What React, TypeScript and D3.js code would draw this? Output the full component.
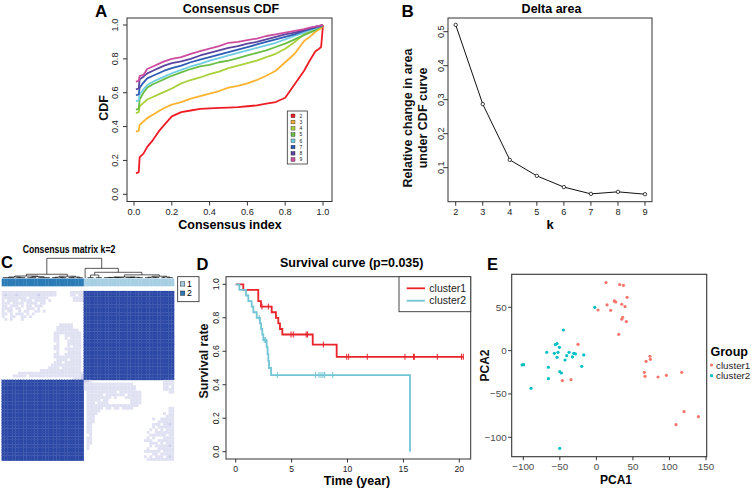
import React from "react";
import * as d3 from "d3";

const FONT = "'Liberation Sans', Arial, Helvetica, sans-serif";

// ---------------- Panel A: Consensus CDF ----------------
const cdfIndex = [0.01, 0.025, 0.03, 0.05, 0.07, 0.1, 0.13, 0.16, 0.2, 0.25, 0.3, 0.35, 0.4, 0.45, 0.5, 0.55, 0.6, 0.65, 0.7, 0.75, 0.8, 0.85, 0.9, 0.93, 0.96, 0.98, 0.99, 1.0];
const cdfK2 = [0.125, 0.13, 0.22, 0.24, 0.28, 0.32, 0.37, 0.41, 0.46, 0.485, 0.495, 0.505, 0.508, 0.51, 0.512, 0.515, 0.52, 0.525, 0.535, 0.545, 0.57, 0.65, 0.73, 0.79, 0.845, 0.86, 0.87, 1.0];
const cdfK3 = [0.37, 0.375, 0.41, 0.43, 0.45, 0.47, 0.49, 0.51, 0.53, 0.545, 0.565, 0.58, 0.595, 0.61, 0.63, 0.64, 0.655, 0.675, 0.7, 0.73, 0.78, 0.83, 0.905, 0.93, 0.96, 0.975, 0.98, 1.0];
const cdfK4 = [0.48, 0.485, 0.52, 0.54, 0.56, 0.575, 0.59, 0.605, 0.625, 0.655, 0.675, 0.69, 0.71, 0.725, 0.745, 0.76, 0.775, 0.79, 0.81, 0.83, 0.86, 0.9, 0.945, 0.96, 0.975, 0.985, 0.99, 1.0];
const cdfK5 = [0.5, 0.505, 0.56, 0.6, 0.63, 0.65, 0.665, 0.68, 0.7, 0.72, 0.74, 0.755, 0.765, 0.78, 0.79, 0.805, 0.82, 0.835, 0.85, 0.87, 0.89, 0.915, 0.94, 0.955, 0.97, 0.985, 0.99, 1.0];
const cdfK6 = [0.55, 0.555, 0.59, 0.62, 0.645, 0.665, 0.68, 0.695, 0.715, 0.735, 0.755, 0.77, 0.79, 0.805, 0.82, 0.835, 0.85, 0.865, 0.88, 0.895, 0.915, 0.935, 0.955, 0.97, 0.98, 0.99, 0.995, 1.0];
const cdfK7 = [0.585, 0.59, 0.63, 0.66, 0.685, 0.7, 0.715, 0.73, 0.745, 0.76, 0.78, 0.795, 0.81, 0.825, 0.84, 0.855, 0.87, 0.885, 0.9, 0.915, 0.93, 0.945, 0.965, 0.975, 0.985, 0.99, 0.995, 1.0];
const cdfK8 = [0.62, 0.625, 0.68, 0.695, 0.714, 0.73, 0.745, 0.76, 0.775, 0.785, 0.8, 0.82, 0.835, 0.85, 0.865, 0.875, 0.89, 0.9, 0.915, 0.93, 0.945, 0.955, 0.97, 0.98, 0.99, 0.995, 0.997, 1.0];
const cdfK9 = [0.665, 0.67, 0.7, 0.705, 0.74, 0.755, 0.77, 0.785, 0.8, 0.81, 0.83, 0.845, 0.86, 0.875, 0.895, 0.9, 0.91, 0.92, 0.935, 0.945, 0.955, 0.965, 0.975, 0.985, 0.99, 0.995, 0.998, 1.0];
const cdfLabels = ["2", "3", "4", "5", "6", "7", "8", "9"];
const cdfColors = ["#EE1C25", "#FDB330", "#A9D13A", "#6BBE45", "#70CDE3", "#2F5DB5", "#5A45A0", "#CC4D9E"];
const cdfTicks = [0, 0.2, 0.4, 0.6, 0.8, 1.0];

// ---------------- Panel B: Delta area ----------------
const deltaK = [2, 3, 4, 5, 6, 7, 8, 9];
const deltaArea = [0.52, 0.287, 0.123, 0.076, 0.043, 0.023, 0.029, 0.022];
const deltaYTicks = [0.1, 0.2, 0.3, 0.4, 0.5];

// ---------------- Panel C: Consensus matrix ----------------
const nCluster1 = 33;
const nCluster2 = 30;
// off-diagonal block: rows = cluster1 (top), cols = cluster2 (left); '.' = 0, 'a' low, 'b' a bit higher
const offDiagPattern = [
  "aaaaaaaaaaaaaaaaaaaa.....aaaaa",
  "abaaabaaaaaaabaaaaaa.....aa.aa",
  "aaaaaaaaa.aaaaaaa.........aaaa",
  "a.aaaa.aaaa.aaaa.a........aaaa",
  "aaa.aaaa.aaaa.aa..............",
  "aa.aaa.a.aa.aaa...............",
  "aaaa.aa..aaa.a................",
  "a.aa..a.aa..aa.a..............",
  "aa.a.aaa.a.a..................",
  "a..aa..aa.a...................",
  ".a.a...a......................",
  "..............................",
  ".....................aaaaa....",
  "....................aaaaaa....",
  "....................aaaaaaaa..",
  "...................aaaaaaaaaa.",
  "...................aa..aaaaaa.",
  "...................aa..a.aaaa.",
  "...................aa...aaaaa.",
  "....................a...aaaaa.",
  "...................aa...a.aaa.",
  "...................aa..aaaaaa.",
  "....................a...aaaaa.",
  "...................aa..aaaaaa.",
  "...................aaaaaaaaaa.",
  "....................aaaa.aaaa.",
  "...................aaa.aaaaaa.",
  "..................aaaaaaaaaaa.",
  ".................aaaa.aaaaaaa.",
  "..............aaaaaaaaaaaaaaa.",
  "......aaaaaaaaaaaaaaaaaaaaaaaa",
  "....aaaaa.aaaaaaaaaaaaaaaaaaab",
  "..........................aaab",
];
type TreeNode = number | { h: number; c: TreeNode[] };
const dendrogram: TreeNode = {
  h: 1,
  c: [
    {
      h: 0.19,
      c: [
        { h: 0.1, c: [{ h: 0.05, c: [5, 4] }, { h: 0.07, c: [4, 5] }] },
        { h: 0.09, c: [{ h: 0.04, c: [3, 3] }, { h: 0.05, c: [3, 3] }] },
      ],
    },
    {
      h: 0.49,
      c: [
        1,
        {
          h: 0.29,
          c: [
            { h: 0.15, c: [3, 3] },
            {
              h: 0.16,
              c: [
                { h: 0.05, c: [{ h: 0.03, c: [4, 4] }, { h: 0.035, c: [4, 3] }] },
                { h: 0.09, c: [{ h: 0.04, c: [3, 3] }, { h: 0.05, c: [2, 3] }] },
              ],
            },
          ],
        },
      ],
    },
  ],
};

// ---------------- Panel D: Survival ----------------
const c1Times = [0.68, 2.02, 2.26, 3.22, 3.6, 3.81, 3.96, 4.17, 6.89, 9.03];
const c1Surv = [0.967, 0.9, 0.867, 0.833, 0.8, 0.767, 0.733, 0.7, 0.64, 0.567];
const c1Censor = [2.35, 2.92, 4.95, 5.15, 6.3, 6.42, 7.84, 9.93, 10.1, 11.77, 15.14, 15.9, 15.98, 18.03, 20.2, 20.36];
const c1End = 20.36;
const c2Times = [0.33, 0.92, 1.13, 1.43, 1.58, 1.88, 2.17, 2.27, 2.38, 2.47, 2.77, 2.85, 2.92, 2.98, 3.16, 15.59];
const c2Surv = [0.967, 0.933, 0.9, 0.867, 0.833, 0.8, 0.767, 0.733, 0.7, 0.667, 0.625, 0.583, 0.542, 0.5, 0.458, 0];
const c2Censor = [2.1, 2.55, 2.67, 3.72, 7.15, 7.45, 7.63, 7.81, 7.96, 8.67];
const c2End = 15.59;
const survXTicks = [0, 5, 10, 15, 20];
const survYTicks = [0, 0.2, 0.4, 0.6, 0.8, 1.0];

// ---------------- Panel E: PCA ----------------
const cl1PC1 = [13.2, 31.9, 37, 42, 25.1, 26.5, 14.6, 34.7, 39.2, 2.3, 19.6, 36, 34.7, 41, 30.6, -25.1, 73.4, 73.9, 68, 65.7, 66.6, 84.4, 95.8, 116.8, -46.5, -34.7, 120, 139.6, 109, 24.5];
const cl1PC2 = [78.5, 76.2, 75.4, 61.5, 56.9, 56.2, 52.7, 53.5, 50.8, 46.9, 46.5, 38.5, 36.2, 33.5, 18.8, 7.3, -6.5, -10, -12.3, -25, -29.6, -30.4, -28.5, -25, -34.6, -33.5, -70.4, -76.2, -85.4, 57.3];
const cl2PC1 = [-2.3, -45.2, -56.1, -53.8, -50.6, -68, -57.5, -52.5, -53.8, -37.4, -40.6, -42.9, -32.8, -31, -28.7, -17.3, -20, -65.7, -50.2, -47.9, -65.7, -101.7, -99.5, -89.4, -50.2];
const cl2PC2 = [50, 23.8, 6.9, 8.1, 3.8, -1.9, -3.1, -1.9, -7.7, -1.9, -5.8, -10.8, -7.3, -3.1, -3.8, -5, -18.1, -19.2, -24.2, -25.8, -32.3, -16.5, -16.2, -43.5, -112.7];
const pcaXTicks = [-100, -50, 0, 50, 100, 150];
const pcaYTicks = [-100, -50, 0, 50];
const groupNames = ["cluster1", "cluster2"];
const groupColors = ["#F8766D", "#00BFC4"];

const fmt1 = (v: number) => v.toFixed(1);
const fmtMinus = (v: number) => (v < 0 ? "\u2212" + Math.abs(v) : String(v));

function RotText(props: { x: number; y: number; size: number; bold?: boolean; children: any; fill?: string }) {
  const { x, y, size, bold, children, fill } = props;
  return (
    <text
      transform={`translate(${x},${y}) rotate(-90)`}
      textAnchor="middle"
      fontSize={size}
      fontWeight={bold ? "bold" : "normal"}
      fill={fill || "#111"}
    >
      {children}
    </text>
  );
}

function PanelA() {
  const x = d3.scaleLinear().domain([0, 1]).range([134, 323]);
  const y = d3.scaleLinear().domain([0, 1]).range([194.3, 25]);
  const series = [cdfK2, cdfK3, cdfK4, cdfK5, cdfK6, cdfK7, cdfK8, cdfK9];
  const line = d3
    .line<number>()
    .x((_, i) => x(cdfIndex[i]))
    .y((d) => y(d));
  const L = { x0: 127, x1: 332, y0: 18, y1: 201.5 };
  const leg = d3.scaleBand<string>().domain(cdfLabels).range([113, 163]);
  return (
    <g>
      <text x={95} y={16.7} fontSize={17} fontWeight="bold">A</text>
      <text x={231} y={13} fontSize={12.5} fontWeight="bold" textAnchor="middle">Consensus CDF</text>
      {series.map((s, i) => (
        <path key={i} d={line(s) || ""} fill="none" stroke={cdfColors[i]} strokeWidth={1.8} strokeLinejoin="round" />
      ))}
      <rect x={L.x0} y={L.y0} width={L.x1 - L.x0} height={L.y1 - L.y0} fill="none" stroke="#333" strokeWidth={1} />
      {cdfTicks.map((t) => (
        <g key={"x" + t}>
          <line x1={x(t)} x2={x(t)} y1={L.y1} y2={L.y1 + 4} stroke="#333" />
          <text x={x(t)} y={215} fontSize={9.2} textAnchor="middle" fill="#222">{fmt1(t)}</text>
        </g>
      ))}
      {cdfTicks.map((t) => (
        <g key={"y" + t}>
          <line x1={L.x0 - 4} x2={L.x0} y1={y(t)} y2={y(t)} stroke="#333" />
          <RotText x={118.3} y={y(t)} size={9.2} fill="#222">{fmt1(t)}</RotText>
        </g>
      ))}
      <RotText x={107.5} y={108} size={12.5} bold>CDF</RotText>
      <text x={230} y={228.5} fontSize={12.5} fontWeight="bold" textAnchor="middle">Consensus index</text>
      <rect x={287.3} y={111} width={20} height={53} fill="white" stroke="#333" strokeWidth={0.8} />
      {cdfLabels.map((k, i) => (
        <g key={k}>
          <rect x={291} y={(leg(k) || 0) + 1} width={4} height={3.6} fill={cdfColors[i]} stroke="#222" strokeWidth={0.4} />
          <text x={299.5} y={(leg(k) || 0) + 4.6} fontSize={5} fill="#222">{k}</text>
        </g>
      ))}
    </g>
  );
}

function PanelB() {
  const x = d3.scaleLinear().domain([2, 9]).range([455.7, 645]);
  const y = d3.scaleLinear().domain([0.1, 0.5]).range([167.7, 31.7]);
  const line = d3
    .line<number>()
    .x((_, i) => x(deltaK[i]))
    .y((d) => y(d));
  const L = { x0: 448, x1: 652, y0: 18, y1: 201.7 };
  return (
    <g>
      <text x={401.5} y={16.5} fontSize={17} fontWeight="bold">B</text>
      <text x={551.5} y={13} fontSize={12.5} fontWeight="bold" textAnchor="middle">Delta area</text>
      <path d={line(deltaArea) || ""} fill="none" stroke="#111" strokeWidth={1} />
      {deltaArea.map((v, i) => (
        <circle key={i} cx={x(deltaK[i])} cy={y(v)} r={1.7} fill="white" stroke="#111" strokeWidth={0.8} />
      ))}
      <rect x={L.x0} y={L.y0} width={L.x1 - L.x0} height={L.y1 - L.y0} fill="none" stroke="#333" strokeWidth={1} />
      {deltaK.map((t) => (
        <g key={"x" + t}>
          <line x1={x(t)} x2={x(t)} y1={L.y1} y2={L.y1 + 4} stroke="#333" />
          <text x={x(t)} y={215} fontSize={9.2} textAnchor="middle" fill="#222">{t}</text>
        </g>
      ))}
      {deltaYTicks.map((t) => (
        <g key={"y" + t}>
          <line x1={L.x0 - 4} x2={L.x0} y1={y(t)} y2={y(t)} stroke="#333" />
          <RotText x={444} y={y(t)} size={9.2} fill="#222">{fmt1(t)}</RotText>
        </g>
      ))}
      <RotText x={411.5} y={118} size={12.5} bold>Relative change in area</RotText>
      <RotText x={426.5} y={118} size={12.5} bold>under CDF curve</RotText>
      <text x={550} y={229} fontSize={13} fontWeight="bold" textAnchor="middle">k</text>
    </g>
  );
}

function PanelC() {
  const n = nCluster1 + nCluster2;
  const ids = d3.range(n);
  const xb = d3.scaleBand<number>().domain(ids).range([1.7, 174]);
  const yb = d3.scaleBand<number>().domain(ids).range([291, 460.7]);
  const hY = d3.scaleLinear().domain([0, 1]).range([278, 258.3]);
  const cellColor: Record<string, string> = { a: "#DFE1F2", b: "#CBCFEA", d: "#2C48A6" };

  const cells: { r: number; c: number; v: string }[] = [];
  for (let r = 0; r < n; r++) {
    for (let c = 0; c < n; c++) {
      let v = ".";
      if (r < nCluster1 && c >= nCluster2) v = "d";
      else if (r >= nCluster1 && c < nCluster2) v = "d";
      else if (r < nCluster1 && c < nCluster2) v = (offDiagPattern[r] || "").padEnd(nCluster2, ".")[c];
      else {
        const rr = r - nCluster1;
        const s = c - nCluster2;
        v = (offDiagPattern[nCluster1 - 1 - s] || "").padEnd(nCluster2, ".")[nCluster2 - 1 - rr];
      }
      if (v !== ".") cells.push({ r, c, v });
    }
  }

  // dendrogram layout
  const segs: { x1: number; y1: number; x2: number; y2: number }[] = [];
  const leafX = (i: number) => (xb(i) || 0) + xb.bandwidth() / 2;
  let cursor = 0;
  const layout = (node: TreeNode): { x: number; h: number } => {
    if (typeof node === "number") {
      const a = cursor;
      const b = cursor + node - 1;
      cursor += node;
      if (node > 1) {
        const h = 0.02;
        segs.push({ x1: leafX(a), y1: hY(h), x2: leafX(b), y2: hY(h) });
        for (let i = a; i <= b; i++) segs.push({ x1: leafX(i), y1: hY(0), x2: leafX(i), y2: hY(h) });
        return { x: (leafX(a) + leafX(b)) / 2, h };
      }
      return { x: leafX(a), h: 0 };
    }
    const kids = node.c.map(layout);
    const xs = kids.map((k) => k.x);
    const xm = d3.mean(xs) || 0;
    segs.push({ x1: xs[0], y1: hY(node.h), x2: xs[xs.length - 1], y2: hY(node.h) });
    kids.forEach((k) => segs.push({ x1: k.x, y1: hY(k.h), x2: k.x, y2: hY(node.h) }));
    return { x: xm, h: node.h };
  };
  layout(dendrogram);

  return (
    <g>
      <text x={1} y={268} fontSize={16.5} fontWeight="bold">C</text>
      <text transform="translate(69,252.5) scale(0.74,1)" fontSize={11.8} fontWeight="bold" textAnchor="middle">
        Consensus matrix k=2
      </text>
      {segs.map((s, i) => (
        <line key={i} x1={s.x1} y1={s.y1} x2={s.x2} y2={s.y2} stroke="#111" strokeWidth={0.7} />
      ))}
      {ids.map((i) => (
        <rect key={i} x={xb(i)} y={278.5} width={xb.bandwidth() + 0.3} height={7.8} fill={i < nCluster2 ? "#2A7BB6" : "#A6CFE3"} />
      ))}
      {cells.map((d, i) => (
        <rect
          key={i}
          x={xb(d.c)}
          y={yb(d.r)}
          width={xb.bandwidth() + 0.15}
          height={yb.bandwidth() + 0.15}
          fill={cellColor[d.v]}
          stroke={d.v === "d" ? "#3450AB" : "none"}
          strokeWidth={0.2}
        />
      ))}
      <rect x={177.7} y={276.7} width={21.3} height={25} fill="white" stroke="#222" strokeWidth={0.8} />
      <rect x={180.5} y={281.8} width={4.3} height={4.3} fill="#A6CFE3" stroke="#222" strokeWidth={0.5} />
      <text x={187} y={286.6} fontSize={8.6}>1</text>
      <rect x={180.5} y={291} width={4.3} height={4.3} fill="#2A7BB6" stroke="#222" strokeWidth={0.5} />
      <text x={187} y={295.8} fontSize={8.6}>2</text>
    </g>
  );
}

function PanelD() {
  const x = d3.scaleLinear().domain([0, 20]).range([235.7, 459.3]);
  const y = d3.scaleLinear().domain([0, 1]).range([451.7, 284.3]);
  const L = { x0: 226, x1: 470.7, y0: 276.7, y1: 459 };
  const kmPath = (times: number[], surv: number[], end: number) => {
    const p = d3.path();
    p.moveTo(x(0), y(1));
    let prev = 1;
    times.forEach((t, i) => {
      p.lineTo(x(t), y(prev));
      p.lineTo(x(t), y(surv[i]));
      prev = surv[i];
    });
    if (end > times[times.length - 1]) p.lineTo(x(end), y(prev));
    return p.toString();
  };
  const survAt = (times: number[], surv: number[], t: number) => {
    let s = 1;
    times.forEach((tt, i) => {
      if (tt <= t) s = surv[i];
    });
    return s;
  };
  const curves = [
    { times: c1Times, surv: c1Surv, cens: c1Censor, end: c1End, color: "#E8232A" },
    { times: c2Times, surv: c2Surv, cens: c2Censor, end: c2End, color: "#72C5D4" },
  ];
  return (
    <g>
      <text x={196.5} y={269.5} fontSize={16.5} fontWeight="bold">D</text>
      <text x={351.7} y={267} fontSize={12.5} fontWeight="bold" textAnchor="middle">Survival curve (p=0.035)</text>
      {curves.map((c, i) => (
        <g key={i}>
          <path d={kmPath(c.times, c.surv, c.end)} fill="none" stroke={c.color} strokeWidth={1.8} />
          {c.cens.map((t, j) => {
            const s = survAt(c.times, c.surv, t);
            return <line key={j} x1={x(t)} x2={x(t)} y1={y(s) - 3} y2={y(s) + 3} stroke={c.color} strokeWidth={1} />;
          })}
        </g>
      ))}
      <rect x={L.x0} y={L.y0} width={L.x1 - L.x0} height={L.y1 - L.y0} fill="none" stroke="#333" strokeWidth={1} />
      {survXTicks.map((t) => (
        <g key={"x" + t}>
          <line x1={x(t)} x2={x(t)} y1={L.y1} y2={L.y1 + 3.5} stroke="#333" />
          <text x={x(t)} y={471.5} fontSize={8.6} textAnchor="middle" fill="#222">{t}</text>
        </g>
      ))}
      {survYTicks.map((t) => (
        <g key={"y" + t}>
          <line x1={L.x0 - 3.5} x2={L.x0} y1={y(t)} y2={y(t)} stroke="#333" />
          <RotText x={219.3} y={y(t)} size={8.6} fill="#222">{fmt1(t)}</RotText>
        </g>
      ))}
      <RotText x={207.5} y={361} size={12.5} bold>Survival rate</RotText>
      <text x={357} y={485} fontSize={12.5} fontWeight="bold" textAnchor="middle">Time (year)</text>
      <rect x={399} y={276.7} width={71.7} height={35} fill="white" stroke="#333" strokeWidth={0.9} />
      {groupNames.map((g, i) => (
        <g key={g}>
          <line x1={406.7} x2={425} y1={288.3 + i * 12.4} y2={288.3 + i * 12.4} stroke={curves[i].color} strokeWidth={1.8} />
          <text x={429.3} y={292 + i * 12.4} fontSize={10.5} fill="#222">{g}</text>
        </g>
      ))}
    </g>
  );
}

function PanelE() {
  const x = d3.scaleLinear().domain([-100, 150]).range([523.3, 706]);
  const y = d3.scaleLinear().domain([-100, 50]).range([437.3, 307.3]);
  const L = { x0: 511.7, x1: 706.7, y0: 274.3, y1: 456.7 };
  const groups = [
    { xs: cl1PC1, ys: cl1PC2, color: groupColors[0] },
    { xs: cl2PC1, ys: cl2PC2, color: groupColors[1] },
  ];
  return (
    <g>
      <text x={487} y={269.5} fontSize={16.5} fontWeight="bold">E</text>
      {groups.map((g, gi) =>
        g.xs.map((v, i) => <circle key={gi + "-" + i} cx={x(v)} cy={y(g.ys[i])} r={1.6} fill={g.color} />)
      )}
      <rect x={L.x0} y={L.y0} width={L.x1 - L.x0} height={L.y1 - L.y0} fill="none" stroke="#333" strokeWidth={1.1} />
      {pcaXTicks.map((t) => (
        <g key={"x" + t}>
          <line x1={x(t)} x2={x(t)} y1={L.y1} y2={L.y1 + 3.5} stroke="#333" />
          <text x={x(t)} y={470} fontSize={9.8} textAnchor="middle" fill="#4D4D4D">{fmtMinus(t)}</text>
        </g>
      ))}
      {pcaYTicks.map((t) => (
        <g key={"y" + t}>
          <line x1={L.x0 - 3.5} x2={L.x0} y1={y(t)} y2={y(t)} stroke="#333" />
          <text x={L.x0 - 5} y={y(t) + 3.4} fontSize={9.8} textAnchor="end" fill="#4D4D4D">{fmtMinus(t)}</text>
        </g>
      ))}
      <text x={616} y={483.5} fontSize={12} fontWeight="bold" textAnchor="middle">PCA1</text>
      <RotText x={489} y={365.5} size={12} bold>PCA2</RotText>
      <text x={710.5} y={356} fontSize={12.5} fontWeight="bold">Group</text>
      {groupNames.map((g, i) => (
        <g key={g}>
          <circle cx={711.5} cy={365 + i * 10.7} r={1.6} fill={groupColors[i]} />
          <text x={716} y={368.5 + i * 10.7} fontSize={9.8} fill="#222">{g}</text>
        </g>
      ))}
    </g>
  );
}

export default function App() {
  return (
    <svg
      width={753}
      height={491}
      viewBox="0 0 753 491"
      style={{ position: "absolute", left: 0, top: 0, background: "white" }}
      fontFamily={FONT}
    >
      <rect x={0} y={0} width={753} height={491} fill="white" />
      <PanelA />
      <PanelB />
      <PanelC />
      <PanelD />
      <PanelE />
    </svg>
  );
}
